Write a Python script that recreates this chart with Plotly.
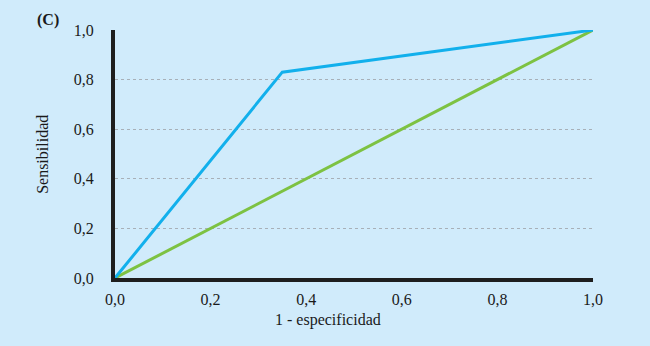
import plotly.graph_objects as go

roc_x = [0.0, 0.35, 1.0]
roc_y = [0.0, 0.83, 1.0]
ref_x = [0.0, 1.0]
ref_y = [0.0, 1.0]
tick_vals = [0.0, 0.2, 0.4, 0.6, 0.8, 1.0]
tick_text = ["0,0", "0,2", "0,4", "0,6", "0,8", "1,0"]

bg = "#d0ebfb"
font = dict(family="Liberation Serif, DejaVu Serif, serif", size=16, color="#1a1a1a")

fig = go.Figure()
fig.add_trace(go.Scatter(x=ref_x, y=ref_y, mode="lines",
                         line=dict(color="#7dc242", width=3), hoverinfo="skip"))
fig.add_trace(go.Scatter(x=roc_x, y=roc_y, mode="lines",
                         line=dict(color="#12b0ec", width=3), hoverinfo="skip"))

fig.update_layout(
    width=650, height=346,
    paper_bgcolor=bg, plot_bgcolor=bg,
    margin=dict(l=115, r=57, t=30, b=68),
    showlegend=False,
    font=font,
    xaxis=dict(range=[0, 1], tickvals=tick_vals, ticktext=tick_text,
               showgrid=False, zeroline=False, showline=True, linecolor="#1e1e1e",
               linewidth=4, ticks="outside", ticklen=4, tickcolor=bg),
    yaxis=dict(range=[0, 1], tickvals=tick_vals, ticktext=tick_text,
               showgrid=True, gridcolor="#a8b0b8", griddash="dot", gridwidth=1,
               zeroline=False, showline=True, linecolor="#1e1e1e",
               linewidth=4, ticks="outside", ticklen=14, tickcolor=bg),
    annotations=[
        dict(text="<b>(C)</b>", xref="paper", yref="paper",
             x=-0.14, y=1.04, xanchor="center", yanchor="middle",
             showarrow=False, font=font),
        dict(text="1 - especificidad", xref="paper", yref="paper",
             x=0.446, y=-0.168, xanchor="center", yanchor="middle",
             showarrow=False, font=font),
        dict(text="Sensibilidad", xref="paper", yref="paper", textangle=-90,
             x=-0.153, y=0.5, xanchor="center", yanchor="middle",
             showarrow=False, font=font),
    ],
)
fig.write_html("out.html", config={"displayModeBar": False},
               post_script="document.body.style.margin='0';document.body.style.background='%s';" % bg)
